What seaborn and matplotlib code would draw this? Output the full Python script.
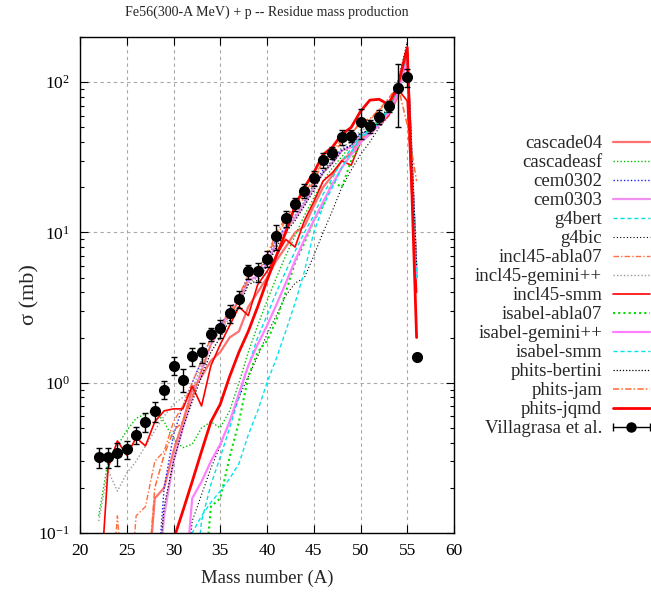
import numpy as np
import pandas as pd
import matplotlib
matplotlib.use("Agg")
import matplotlib.pyplot as plt
import seaborn as sns
from matplotlib.lines import Line2D
from matplotlib.legend_handler import HandlerLine2D, HandlerTuple
from matplotlib.ticker import LogLocator, LogFormatterMathtext, MultipleLocator, NullFormatter

nan = np.nan

# Mass numbers covered by the model calculations
mass = list(range(21, 57))

# Model cross sections (mb) for A = 21 ... 56
cascade04 = [nan, nan, nan, nan, nan, nan,
             0.03, 0.17, 0.2, 0.35, 0.55, 0.9,
             1.1, 1.4, 1.6, 2.0, 2.2, 3.2,
             4.0, 5.0, 6.5, 8.0, 10, 11,
             15, 20, 24, 30, 34, 42,
             46, 52, 60, 80, 160, 5]
cascadeasf = [nan, 0.13, 0.3, 0.38, 0.48, 0.58,
              0.62, 0.65, 0.55, 0.42, 0.37, 0.39,
              0.5, 0.55, 0.5, 0.65, 1.0, 1.6,
              2.4, 3.5, 5.0, 7.0, 9.5, 13,
              17, 22, 27, 32, 38, 45,
              48, 55, 65, 85, 140, 5.5]
cem0302 = [nan, nan, nan, nan, nan, nan,
           nan, 0.03, 0.2, 0.45, 0.7, 1.0,
           1.4, 2.0, 2.4, 3.0, 3.8, 5.0,
           5.4, 6.5, 9.0, 11, 13, 16,
           21, 26, 30, 36, 38, 46,
           47, 55, 65, 88, 150, 5]
cem0303 = [nan, nan, nan, nan, nan, nan,
           nan, 0.03, 0.13, 0.3, 0.5, 0.8,
           1.2, 1.8, 2.3, 2.9, 3.5, 4.8,
           5.1, 6.2, 8.5, 10.5, 12.5, 15.5,
           20, 25, 29, 35, 37, 44,
           46, 53, 63, 85, 145, 5]
g4bert = [nan, nan, nan, nan, nan, nan,
          nan, nan, nan, nan, nan, 0.03,
          0.12, 0.21, 0.32, 0.5, 0.8, 1.3,
          2.0, 2.8, 4.0, 5.5, 7.5, 10,
          13, 18, 23, 30, 36, 44,
          48, 55, 65, 90, 150, 6]
g4bic = [nan, nan, nan, nan, nan, nan,
         nan, nan, nan, nan, 0.03, 0.12,
         0.18, 0.27, 0.38, 0.55, 0.8, 1.1,
         1.5, 2.1, 2.8, 3.8, 4.6, 5.0,
         7.0, 10, 14, 20, 26, 33,
         40, 50, 60, 85, 150, 5]
incl45_abla07 = [nan, nan, 0.02, 0.13, 0.02, 0.13,
                 0.15, 0.3, 0.35, 0.55, 0.7, 1.0,
                 1.4, 2.0, 2.4, 3.0, 3.8, 5.2,
                 5.8, 7.0, 10, 12.5, 15, 18,
                 23, 30, 34, 42, 45, 55,
                 56, 65, 75, 90, 160, 5]
incl45_gemini = [nan, 0.12, 0.26, 0.19, 0.25, 0.3,
                 0.38, 0.48, 0.6, 0.72, 0.8, 0.9,
                 1.3, 1.8, 2.2, 2.7, 3.3, 4.6,
                 5.0, 6.2, 8.5, 10.5, 13, 16,
                 20, 25, 30, 37, 40, 48,
                 50, 57, 68, 95, 165, 5]
incl45_smm = [nan, 0.03, 0.27, 0.41, 0.33, 0.43,
              0.38, 0.55, 0.65, 0.67, 0.67, 0.95,
              0.7, 1.3, 1.8, 2.4, 3.2, 2.8,
              4.5, 5.5, 7.0, 9.0, 8.0, 12,
              16, 22, 25, 30, 28, 40,
              45, 52, 60, 90, 75, 4]
isabel_abla07 = [nan, nan, nan, nan, nan, nan,
                 nan, nan, nan, nan, nan, nan,
                 0.03, 0.15, 0.17, 0.32, 0.55, 1.1,
                 1.6, 1.9, 2.6, 4.0, 6.3, 8.5,
                 12, 15, 22, 20, 30, 40,
                 45, 55, 65, 90, 155, 5]
isabel_gemini = [nan, nan, nan, nan, nan, nan,
                 nan, nan, nan, nan, 0.03, 0.17,
                 0.22, 0.3, 0.39, 0.55, 0.85, 1.3,
                 1.8, 2.4, 3.3, 4.6, 6.5, 9.0,
                 12, 16, 21, 27, 33, 40,
                 45, 52, 62, 85, 145, 5]
isabel_smm = [nan, nan, nan, nan, nan, nan,
              nan, nan, nan, nan, 0.03, 0.1,
              0.13, 0.16, 0.19, 0.23, 0.29, 0.45,
              0.65, 1.0, 1.45, 2.2, 3.4, 5.5,
              10, 15, 20, 27, 34, 43,
              47, 54, 68, 92, 150, 5]
phits_bertini = [nan, nan, nan, nan, nan, nan,
                 nan, 0.03, 0.15, 0.3, 0.5, 0.75,
                 1.1, 1.6, 2.0, 2.6, 3.2, 4.5,
                 4.8, 6.0, 8.0, 10, 12, 15,
                 19, 25, 29, 35, 38, 46,
                 48, 56, 68, 100, 185, 6]
phits_jam = [nan, nan, nan, nan, nan, nan,
             0.03, 0.2, 0.33, 0.48, 0.55, 0.8,
             1.2, 1.8, 2.3, 2.8, 3.5, 5.0,
             5.5, 6.8, 9.5, 12, 14, 17,
             22, 29, 33, 40, 44, 55,
             57, 66, 78, 95, 52, 22]
phits_jqmd = [nan, nan, nan, nan, nan, nan,
              nan, nan, 0.03, 0.09, 0.14, 0.22,
              0.35, 0.55, 0.72, 1.1, 1.6, 2.2,
              3.2, 4.8, 7.0, 10, 15, 20,
              25, 33, 37, 45, 50, 64,
              76, 77, 71, 95, 170, 2.0]

# Measured residue cross sections (Villagrasa et al.)
exp_mass = list(range(22, 57))
exp_sigma = [0.32, 0.32, 0.34, 0.36, 0.45, 0.55, 0.65, 0.9, 1.3, 1.05,
             1.5, 1.6, 2.1, 2.3, 2.9, 3.6, 5.5, 5.5, 6.7, 9.5,
             12.4, 15.4, 19, 23, 30.5, 34, 43, 44, 54, 51,
             59, 69, 91, 108, 1.48]
exp_err = [0.05, 0.05, 0.06, 0.05, 0.06, 0.08, 0.1, 0.12, 0.18, 0.18,
           0.2, 0.25, 0.2, 0.3, 0.4, 0.45, 0.6, 0.8, 0.8, 1.8,
           1.5, 1.6, 2.0, 2.5, 3.5, 3.0, 5.0, 4.0, 12, 5.0,
           6.0, 6.0, 41, 15, 0.0]

labels = ["cascade04", "cascadeasf", "cem0302", "cem0303", "g4bert", "g4bic",
          "incl45-abla07", "incl45-gemini++", "incl45-smm", "isabel-abla07",
          "isabel-gemini++", "isabel-smm", "phits-bertini", "phits-jam",
          "phits-jqmd"]
series = [cascade04, cascadeasf, cem0302, cem0303, g4bert, g4bic,
          incl45_abla07, incl45_gemini, incl45_smm, isabel_abla07,
          isabel_gemini, isabel_smm, phits_bertini, phits_jam, phits_jqmd]

dot = (0, (1, 1.5))
dash = (0, (3, 2))
dashdot = (0, (4, 1.5, 1, 1.5))
styles = [
    dict(color="#ff7070", ls="-", lw=1.6),
    dict(color="#00c000", ls=dot, lw=1.0),
    dict(color="#2020ff", ls=dot, lw=1.0),
    dict(color="#f090f0", ls="-", lw=1.6),
    dict(color="#00e0e0", ls=dash, lw=1.0),
    dict(color="#000000", ls=(0, (1, 2)), lw=0.8),
    dict(color="#ff7040", ls=dashdot, lw=1.0),
    dict(color="#999999", ls=dot, lw=1.0),
    dict(color="#ff0000", ls="-", lw=1.2),
    dict(color="#00e000", ls=dot, lw=1.5),
    dict(color="#ff80ff", ls="-", lw=1.6),
    dict(color="#00e5ee", ls=dash, lw=1.0),
    dict(color="#000000", ls=dot, lw=0.9),
    dict(color="#ff6a30", ls=dashdot, lw=1.1),
    dict(color="#ff0000", ls="-", lw=2.0),
]

sns.set_style("ticks")
plt.rcParams["font.family"] = ["Liberation Serif", "DejaVu Serif"]
plt.rcParams["mathtext.fontset"] = "stix"

fig = plt.figure(figsize=(6.51, 5.95), dpi=100)
ax = fig.add_axes([80 / 651, 62 / 595, 374 / 651, 496 / 595])

handles = []
for name, vals, st in zip(labels, series, styles):
    df = pd.DataFrame({"A": mass, "sigma": vals}).dropna()
    sns.lineplot(data=df, x="A", y="sigma", ax=ax, color=st["color"],
                 linestyle=st["ls"], linewidth=st["lw"], legend=False)
    handles.append(Line2D([], [], color=st["color"], linestyle=st["ls"],
                          linewidth=st["lw"]))

ax.errorbar(exp_mass, exp_sigma, yerr=exp_err, fmt="o", color="black",
            ms=7, elinewidth=1.0, capsize=2, capthick=1.0, zorder=5)

ax.set_yscale("log")
ax.set_xlim(20, 60)
ax.set_ylim(0.1, 200)
ax.xaxis.set_major_locator(MultipleLocator(5))
ax.yaxis.set_major_locator(LogLocator(base=10, numticks=10))
ax.yaxis.set_major_formatter(LogFormatterMathtext())
ax.yaxis.set_minor_locator(LogLocator(base=10, subs=np.arange(2, 10), numticks=20))
ax.yaxis.set_minor_formatter(NullFormatter())
ax.tick_params(which="both", direction="in", top=True, right=True,
               labelsize=12.5, width=0.8, colors="black")
ax.tick_params(which="major", length=6, pad=7)
ax.tick_params(which="minor", length=3)
for s in ax.spines.values():
    s.set_linewidth(1.0)
    s.set_color("black")
ax.grid(True, which="major", color="#a8a8a8", linestyle=(0, (3, 3)), linewidth=0.8)
ax.set_axisbelow(True)

ax.set_xlabel("Mass number (A)", fontsize=13.5, labelpad=8)
ax.set_ylabel("σ (mb)", fontsize=16)
ax.yaxis.set_label_coords(-0.108, 0.48)
fig.text(267 / 651, 1 - 12 / 595, "Fe56(300-A MeV) + p -- Residue mass production",
         ha="center", va="center", fontsize=10.1)

# Experimental entry: line with dot and end caps
exp_line = Line2D([], [], color="black", marker="o", ms=6.5, lw=1.0)
exp_caps = Line2D([], [], color="black", marker="|", ms=6, lw=0)
handles.append((exp_line, exp_caps))
leg_labels = labels + ["Villagrasa et al."]

fig.legend(handles, leg_labels, loc="upper right",
           bbox_to_anchor=(650 / 651, 1 - 135 / 595),
           frameon=False, markerfirst=False, borderpad=0, borderaxespad=0,
           handlelength=2.0, handletextpad=0.55, labelspacing=0.1,
           fontsize=13.5,
           handler_map={tuple: HandlerTuple(ndivide=1, pad=0),
                        exp_caps: HandlerLine2D(numpoints=2, marker_pad=0)})

fig.savefig("out.png", dpi=100)
